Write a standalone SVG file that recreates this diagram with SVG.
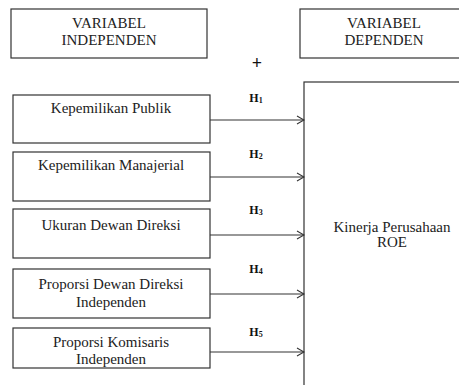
<svg xmlns="http://www.w3.org/2000/svg" width="459" height="385" viewBox="0 0 459 385">
<defs>
<style>
.box{fill:#fff;stroke:#333;stroke-width:1.2}
.c{stroke:#333;stroke-width:1.2;fill:none}
</style>
<marker id="arr" viewBox="0 0 10 10" refX="9" refY="5" markerWidth="10" markerHeight="10" markerUnits="userSpaceOnUse" orient="auto">
<path d="M2,1 L9,5 L2,9" fill="none" stroke="#333" stroke-width="1.1"/>
</marker>
</defs>
<rect width="459" height="385" fill="#fff"/>
<g id="hdr-independen">
<rect class="box" x="11" y="9" width="196" height="49"/>
<text x="109" y="28" text-anchor="middle" fill="#222" style="font-family:'Liberation Serif';font-size:15px">VARIABEL</text>
<text x="109" y="45" text-anchor="middle" fill="#222" style="font-family:'Liberation Serif';font-size:15px">INDEPENDEN</text>
</g>
<g id="hdr-dependen">
<rect class="box" x="300" y="9" width="170" height="49"/>
<text x="384" y="28" text-anchor="middle" fill="#222" style="font-family:'Liberation Serif';font-size:15px">VARIABEL</text>
<text x="384" y="45" text-anchor="middle" fill="#222" style="font-family:'Liberation Serif';font-size:15px">DEPENDEN</text>
</g>
<text x="257" y="69" text-anchor="middle" fill="#111" style="font-family:'Liberation Serif';font-size:18px;font-weight:bold">+</text>
<g id="n1">
<rect class="box" x="13" y="95" width="197" height="48"/>
<text x="111" y="113" text-anchor="middle" fill="#222" style="font-family:'Liberation Serif';font-size:15px">Kepemilikan  Publik</text>
</g>
<g id="n2">
<rect class="box" x="13" y="152" width="197" height="49"/>
<text x="111" y="170" text-anchor="middle" fill="#222" style="font-family:'Liberation Serif';font-size:15px">Kepemilikan  Manajerial</text>
</g>
<g id="n3">
<rect class="box" x="13" y="209" width="197" height="49"/>
<text x="111" y="230" text-anchor="middle" fill="#222" style="font-family:'Liberation Serif';font-size:15px">Ukuran  Dewan  Direksi</text>
</g>
<g id="n4">
<rect class="box" x="13" y="269" width="197" height="49"/>
<text x="111" y="289" text-anchor="middle" fill="#222" style="font-family:'Liberation Serif';font-size:15px">Proporsi Dewan Direksi</text>
<text x="111" y="307" text-anchor="middle" fill="#222" style="font-family:'Liberation Serif';font-size:15px">Independen</text>
</g>
<g id="n5">
<rect class="box" x="13" y="328" width="197" height="40"/>
<text x="111" y="347" text-anchor="middle" fill="#222" style="font-family:'Liberation Serif';font-size:15px">Proporsi Komisaris</text>
<text x="111" y="364" text-anchor="middle" fill="#222" style="font-family:'Liberation Serif';font-size:15px">Independen</text>
</g>
<g id="target">
<rect class="box" x="304" y="82" width="170" height="320"/>
<text x="392" y="232" text-anchor="middle" fill="#222" style="font-family:'Liberation Serif';font-size:15px">Kinerja Perusahaan</text>
<text x="392" y="247" text-anchor="middle" fill="#222" style="font-family:'Liberation Serif';font-size:15px">ROE</text>
</g>
<g id="connectors">
<line class="c" x1="210" y1="120" x2="304" y2="120" marker-end="url(#arr)"/>
<line class="c" x1="210" y1="177" x2="304" y2="177" marker-end="url(#arr)"/>
<line class="c" x1="210" y1="235" x2="304" y2="235" marker-end="url(#arr)"/>
<line class="c" x1="210" y1="294" x2="304" y2="294" marker-end="url(#arr)"/>
<line class="c" x1="210" y1="352" x2="304" y2="352" marker-end="url(#arr)"/>
<text x="256" y="102" text-anchor="middle" fill="#111" style="font-family:'Liberation Serif';font-size:12px;font-weight:bold">H<tspan font-size="8" dy="1">1</tspan></text>
<text x="256" y="158" text-anchor="middle" fill="#111" style="font-family:'Liberation Serif';font-size:12px;font-weight:bold">H<tspan font-size="8" dy="1">2</tspan></text>
<text x="256" y="214" text-anchor="middle" fill="#111" style="font-family:'Liberation Serif';font-size:12px;font-weight:bold">H<tspan font-size="8" dy="1">3</tspan></text>
<text x="256" y="273" text-anchor="middle" fill="#111" style="font-family:'Liberation Serif';font-size:12px;font-weight:bold">H<tspan font-size="8" dy="1">4</tspan></text>
<text x="256" y="336" text-anchor="middle" fill="#111" style="font-family:'Liberation Serif';font-size:12px;font-weight:bold">H<tspan font-size="8" dy="1">5</tspan></text>
</g>
</svg>
